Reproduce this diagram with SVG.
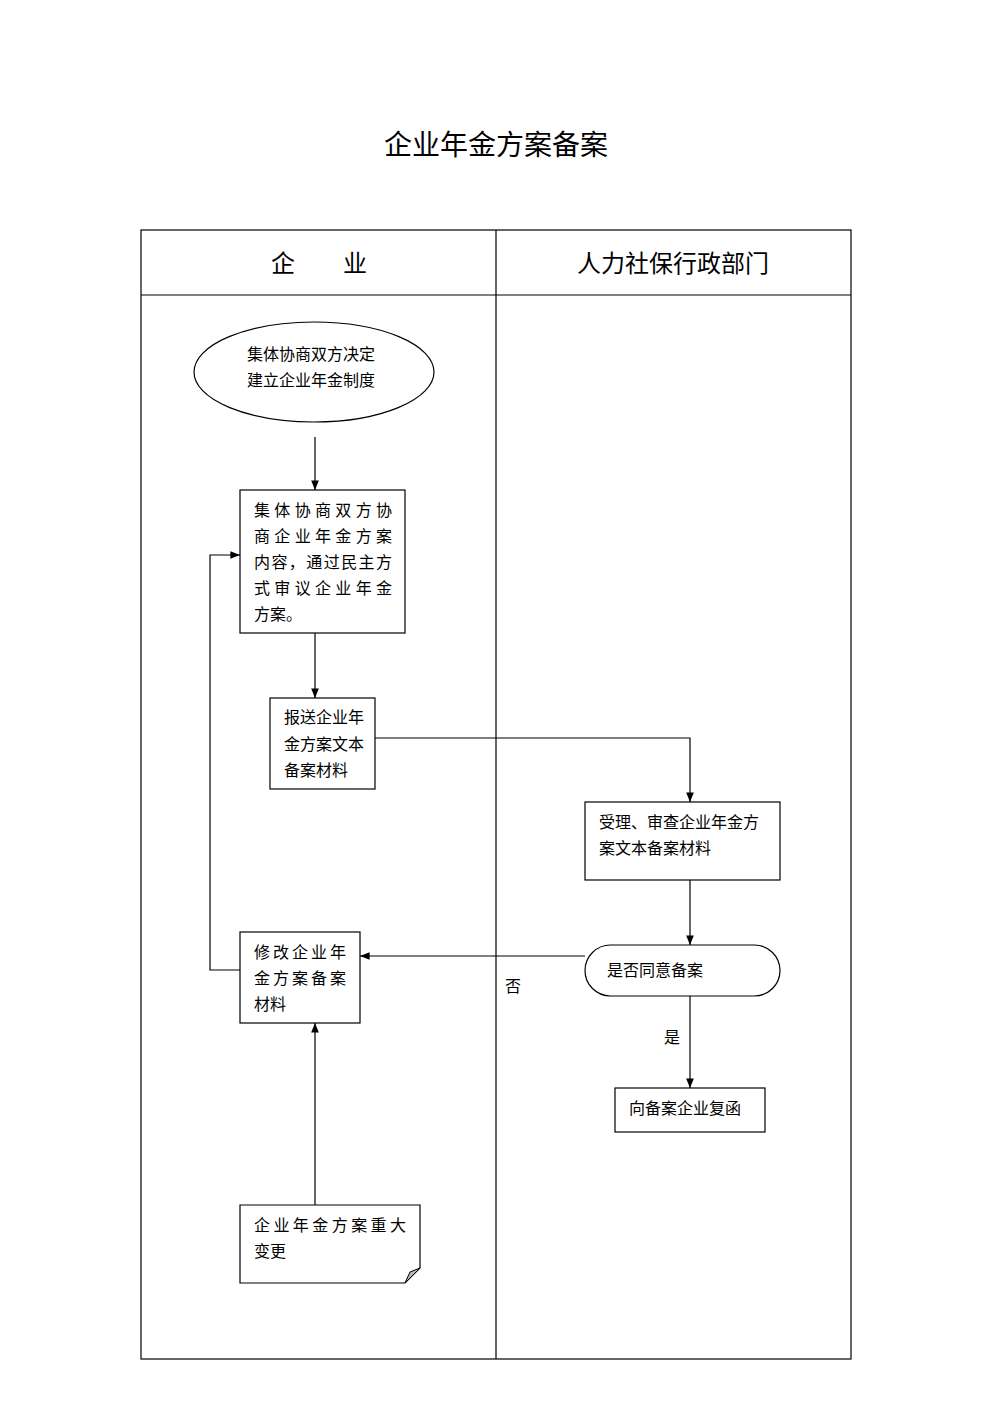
<svg xmlns="http://www.w3.org/2000/svg" width="992" height="1403" viewBox="0 0 992 1403">
<defs>
<style>
text{font-family:"Noto Sans CJK SC","Noto Serif CJK SC",sans-serif;fill:#000;font-size:16px}
text.t{font-size:28px}
text.h{font-size:24px}
.n{fill:#fff;stroke:#000;stroke-width:1.2}
.c{fill:none;stroke:#000;stroke-width:1.2}
</style>
<marker id="a" viewBox="0 0 10 10" refX="10" refY="5" markerWidth="8" markerHeight="8" orient="auto"><path d="M0,1 L10,5 L0,9Z" fill="#000"/></marker>
</defs>
<rect width="992" height="1403" fill="#fff"/>
<text class="t" x="496" y="155" text-anchor="middle">企业年金方案备案</text>
<g id="table">
<rect x="141" y="230" width="710" height="1129" class="c"/>
<line x1="141" y1="295" x2="851" y2="295" class="c"/>
<line x1="496" y1="230" x2="496" y2="1359" class="c"/>
<text class="h" x="319" y="272" text-anchor="middle">企　　业</text>
<text class="h" x="673" y="272" text-anchor="middle">人力社保行政部门</text>
</g>
<g id="connectors">
<path d="M315,437 V490" class="c" marker-end="url(#a)"/>
<path d="M315,633 V698" class="c" marker-end="url(#a)"/>
<path d="M375,738 H690 V802" class="c" marker-end="url(#a)"/>
<path d="M690,880 V945" class="c" marker-end="url(#a)"/>
<path d="M585,956 H360" class="c" marker-end="url(#a)"/>
<path d="M690,996 V1088" class="c" marker-end="url(#a)"/>
<path d="M315,1205 V1023" class="c" marker-end="url(#a)"/>
<path d="M240,970 H210 V555 H240" class="c" marker-end="url(#a)"/>
<text x="505" y="992">否</text>
<text x="664" y="1043">是</text>
</g>
<g id="n1"><ellipse cx="314" cy="372" rx="120" ry="50" class="n"/>
<text x="247" y="360">集体协商双方决定</text><text x="247" y="386">建立企业年金制度</text></g>
<g id="n2"><rect x="240" y="490" width="165" height="143" class="n"/>
<text x="254" y="516" textLength="138" lengthAdjust="spacing">集体协商双方协</text>
<text x="254" y="542" textLength="138" lengthAdjust="spacing">商企业年金方案</text>
<text x="254" y="568" textLength="138" lengthAdjust="spacing">内容，通过民主方</text>
<text x="254" y="594" textLength="138" lengthAdjust="spacing">式审议企业年金</text>
<text x="254" y="620">方案。</text></g>
<g id="n3"><rect x="270" y="698" width="105" height="91" class="n"/>
<text x="284" y="723">报送企业年</text><text x="284" y="750">金方案文本</text><text x="284" y="776">备案材料</text></g>
<g id="n4"><rect x="585" y="802" width="195" height="78" class="n"/>
<text x="599" y="828">受理、审查企业年金方</text><text x="599" y="854">案文本备案材料</text></g>
<g id="n5"><rect x="585" y="945" width="195" height="51" rx="25.5" class="n"/>
<text x="607" y="976">是否同意备案</text></g>
<g id="n6"><rect x="615" y="1088" width="150" height="44" class="n"/>
<text x="629" y="1114">向备案企业复函</text></g>
<g id="n7"><rect x="240" y="932" width="120" height="91" class="n"/>
<text x="254" y="958" textLength="92" lengthAdjust="spacing">修改企业年</text>
<text x="254" y="984" textLength="92" lengthAdjust="spacing">金方案备案</text>
<text x="254" y="1010">材料</text></g>
<g id="n8"><path d="M240,1205 H420 V1268 L405,1283 H240Z" class="n"/>
<path d="M405,1283 L410,1272 L420,1268Z" fill="#bbb" stroke="#000"/>
<text x="254" y="1231" textLength="152" lengthAdjust="spacing">企业年金方案重大</text>
<text x="254" y="1257">变更</text></g>
</svg>
